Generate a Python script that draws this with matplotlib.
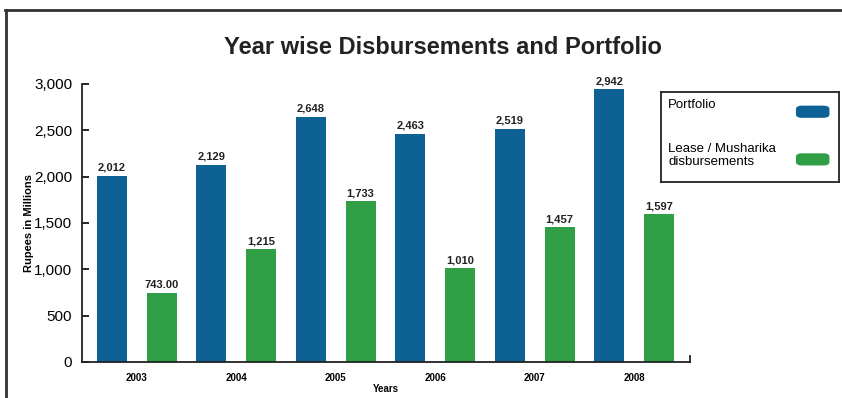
import matplotlib
matplotlib.use("Agg")
import matplotlib.pyplot as plt
import numpy as np
from matplotlib.lines import Line2D
from matplotlib.patches import FancyBboxPatch

plt.rcParams['font.family'] = ['Liberation Sans', 'DejaVu Sans']

years = ["2003", "2004", "2005", "2006", "2007", "2008"]
portfolio = [2012, 2129, 2648, 2463, 2519, 2942]
lease = [743, 1215, 1733, 1010, 1457, 1597]
portfolio_labels = ["2,012", "2,129", "2,648", "2,463", "2,519", "2,942"]
lease_labels = ["743.00", "1,215", "1,733", "1,010", "1,457", "1,597"]

blue = "#0d6195"
green = "#2f9e45"

fig = plt.figure(figsize=(8.42, 3.98), dpi=100)
ax = fig.add_axes([0.0974, 0.0905, 0.722, 0.6985])

x = np.arange(len(years))
w = 0.3
b1 = ax.bar(x - 0.25, portfolio, w, color=blue)
b2 = ax.bar(x + 0.25, lease, w, color=green)

for bars, labs in [(b1, portfolio_labels), (b2, lease_labels)]:
    for b, lab in zip(bars, labs):
        ax.annotate(lab, (b.get_x() + b.get_width() / 2, b.get_height()),
                    xytext=(0, 2), textcoords="offset points",
                    ha="center", va="bottom", fontsize=8, fontweight="bold",
                    color="#222222")

ax.set_xlim(-0.55, 5.56)
ax.set_ylim(0, 3000)
ax.set_yticks(range(0, 3001, 500))
ax.set_yticklabels(["0", "500", "1,000", "1,500", "2,000", "2,500", "3,000"], fontsize=11)
ax.set_xticks(x)
ax.set_xticklabels(years, fontsize=7, fontweight="bold")
ax.tick_params(axis="x", length=0, pad=8)
ax.tick_params(axis="y", direction="in", length=5, width=1.2, pad=7)
ax.set_xlabel("Years", fontsize=7, fontweight="bold", labelpad=1)
ax.set_ylabel("Rupees in Millions", fontsize=8, fontweight="bold", labelpad=0)
for s in ["top", "right"]:
    ax.spines[s].set_visible(False)
for s in ["left", "bottom"]:
    ax.spines[s].set_linewidth(1.3)
    ax.spines[s].set_color("#222222")
ax.plot([1, 1], [0, 0.02], transform=ax.transAxes, color="#222222", lw=1.3, clip_on=False)

fig.text(0.526, 0.88, "Year wise Disbursements and Portfolio", ha="center", va="center",
         fontsize=17, fontweight="bold", color="#222222")

# legend box
lax = fig.add_axes([0.785, 0.543, 0.212, 0.226])
lax.set_xlim(0, 1)
lax.set_ylim(0, 1)
lax.set_xticks([])
lax.set_yticks([])
for s in lax.spines.values():
    s.set_linewidth(1.3)
    s.set_color("#222222")
lax.text(0.04, 0.856, "Portfolio", fontsize=9.5, va="center", ha="left")
lax.text(0.04, 0.294, "Lease / Musharika\ndisbursements", fontsize=9.5, va="center", ha="left",
         linespacing=1.2)
lax.add_patch(FancyBboxPatch((0.76, 0.72), 0.18, 0.12, boxstyle="round,pad=0,rounding_size=0.03",
                             color=blue))
lax.add_patch(FancyBboxPatch((0.76, 0.19), 0.18, 0.12, boxstyle="round,pad=0,rounding_size=0.03",
                             color=green))

# outer frame
fig.add_artist(Line2D([0.007, 0.007], [0, 0.975], color="#333333", lw=2))
fig.add_artist(Line2D([0.006, 1], [0.975, 0.975], color="#333333", lw=2))

fig.savefig("out.png", dpi=100)
